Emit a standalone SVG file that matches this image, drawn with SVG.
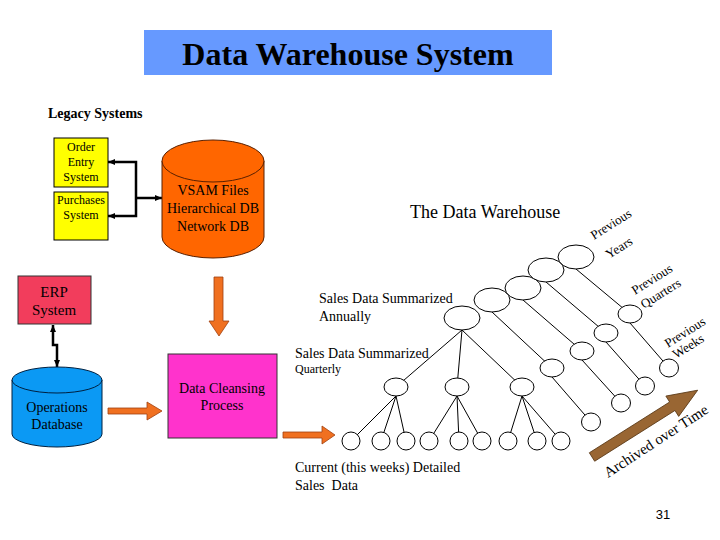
<svg xmlns="http://www.w3.org/2000/svg" width="720" height="540" viewBox="0 0 720 540">
<defs>
<style>
.ser{font-family:"Liberation Serif","Times New Roman",serif;fill:#000}
.sans{font-family:"Liberation Sans",Arial,sans-serif;fill:#000}
.tn{fill:#fff;stroke:#000;stroke-width:1}
.edge{stroke:#000;stroke-width:1;fill:none}
.blk{stroke:#000;stroke-width:2.5;fill:none}
.orange{fill:#F07020;stroke:#A04010;stroke-width:0.8}
</style>
<marker id="ah" markerUnits="userSpaceOnUse" markerWidth="8" markerHeight="8" refX="7" refY="3.5" orient="auto-start-reverse" viewBox="0 0 8 7">
<path d="M0,0.5 L7,3.5 L0,6.5 z" fill="#000"/>
</marker>
</defs>
<rect width="720" height="540" fill="#fff"/>

<g id="title">
<rect x="144" y="30" width="408" height="45" fill="#6699FF"/>
<text class="ser" x="348" y="65" font-size="32" font-weight="bold" text-anchor="middle">Data Warehouse System</text>
</g>

<text class="ser" x="48" y="118" font-size="14" font-weight="bold">Legacy Systems</text>

<g id="connectors">
<path class="blk" d="M108,162 H136 V216 H108" marker-start="url(#ah)" marker-end="url(#ah)"/>
<path class="blk" d="M136,198 H162" marker-end="url(#ah)"/>
<path class="blk" d="M53,325 V345 H57 V367" marker-start="url(#ah)" marker-end="url(#ah)"/>
<polygon class="orange" points="214,277 223,277 223,321 229,321 219,336 209,321 214,321"/>
<polygon class="orange" points="108,408 147,408 147,402 162,411 147,420 147,414 108,414"/>
<polygon class="orange" points="283,432 322,432 322,426 335,435 322,444 322,438 283,438"/>
<g transform="translate(592,457) rotate(-32.3)">
<polygon points="0,-5 95,-5 95,-12 125,0 95,12 95,5 0,5" fill="#996633" stroke="#5a3a18" stroke-width="0.8"/>
</g>
<g class="edge">
<line x1="462" y1="330" x2="396" y2="387"/>
<line x1="462" y1="330" x2="457" y2="387"/>
<line x1="462" y1="330" x2="522" y2="387"/>
<line x1="492" y1="312" x2="552" y2="368"/>
<line x1="523" y1="300" x2="582" y2="351"/>
<line x1="546" y1="282" x2="606" y2="333"/>
<line x1="576" y1="269" x2="630" y2="314"/>
<line x1="396" y1="396" x2="351" y2="441"/>
<line x1="396" y1="396" x2="381" y2="441"/>
<line x1="396" y1="396" x2="406" y2="441"/>
<line x1="457" y1="396" x2="429" y2="441"/>
<line x1="457" y1="396" x2="459" y2="441"/>
<line x1="457" y1="396" x2="482" y2="441"/>
<line x1="522" y1="396" x2="508" y2="441"/>
<line x1="522" y1="396" x2="537" y2="441"/>
<line x1="522" y1="396" x2="561" y2="441"/>
<line x1="552" y1="377" x2="591" y2="422"/>
<line x1="582" y1="360" x2="621" y2="403"/>
<line x1="606" y1="342" x2="645" y2="386"/>
<line x1="630" y1="323" x2="669" y2="368"/>
</g>
</g>

<g id="order-entry">
<rect x="54" y="138" width="54" height="49" fill="#FFFF00" stroke="#000" stroke-width="1"/>
<text class="ser" font-size="12" text-anchor="middle"><tspan x="81" y="151">Order</tspan><tspan x="81" y="166">Entry</tspan><tspan x="81" y="181">System</tspan></text>
</g>
<g id="purchases">
<rect x="54" y="192" width="54" height="48" fill="#FFFF00" stroke="#000" stroke-width="1"/>
<text class="ser" font-size="12" text-anchor="middle"><tspan x="81" y="204">Purchases</tspan><tspan x="81" y="219">System</tspan></text>
</g>

<g id="vsam">
<path d="M162,161 V237 A51,21 0 0 0 264,237 V161 Z" fill="#FF6600" stroke="#5a2000" stroke-width="1"/>
<ellipse cx="213" cy="161" rx="51" ry="21" fill="#FF6600" stroke="#5a2000" stroke-width="1"/>
<text class="ser" font-size="14" text-anchor="middle" fill="#2a1000"><tspan x="213" y="195">VSAM Files</tspan><tspan x="213" y="213">Hierarchical DB</tspan><tspan x="213" y="231">Network DB</tspan></text>
</g>

<g id="erp">
<rect x="18" y="276" width="73" height="48" fill="#F23D5C" stroke="#333" stroke-width="1"/>
<text class="ser" font-size="15" text-anchor="middle" fill="#3a0010"><tspan x="54" y="297">ERP</tspan><tspan x="54" y="315">System</tspan></text>
</g>

<g id="operations">
<path d="M12,380 V434 A45,13 0 0 0 102,434 V380 Z" fill="#0B99F4" stroke="#002040" stroke-width="1"/>
<ellipse cx="57" cy="380" rx="45" ry="13" fill="#0B99F4" stroke="#002040" stroke-width="1"/>
<text class="ser" font-size="14" text-anchor="middle" fill="#001a4d"><tspan x="57" y="412">Operations</tspan><tspan x="57" y="429">Database</tspan></text>
</g>

<g id="cleansing">
<rect x="168" y="354" width="109" height="84" fill="#FF33CC" stroke="#333" stroke-width="1"/>
<text class="ser" font-size="14" text-anchor="middle" fill="#300028"><tspan x="222" y="393">Data Cleansing</tspan><tspan x="222" y="410">Process</tspan></text>
</g>

<text class="ser" x="410" y="218" font-size="18">The Data Warehouse</text>

<g id="annual-nodes">
<ellipse class="tn" cx="462" cy="318" rx="18" ry="12"/>
<ellipse class="tn" cx="492" cy="300" rx="18" ry="12"/>
<ellipse class="tn" cx="523" cy="288" rx="18" ry="12"/>
<ellipse class="tn" cx="546" cy="270" rx="18" ry="12"/>
<ellipse class="tn" cx="576" cy="257" rx="18" ry="12"/>
</g>
<g id="quarter-nodes">
<ellipse class="tn" cx="396" cy="387" rx="12" ry="9"/>
<ellipse class="tn" cx="457" cy="387" rx="12" ry="9"/>
<ellipse class="tn" cx="522" cy="387" rx="12" ry="9"/>
<ellipse class="tn" cx="552" cy="368" rx="12" ry="9"/>
<ellipse class="tn" cx="582" cy="351" rx="12" ry="9"/>
<ellipse class="tn" cx="606" cy="333" rx="12" ry="9"/>
<ellipse class="tn" cx="630" cy="314" rx="12" ry="9"/>
</g>
<g id="week-nodes">
<ellipse class="tn" cx="351" cy="441" rx="9" ry="9"/>
<ellipse class="tn" cx="381" cy="441" rx="9" ry="9"/>
<ellipse class="tn" cx="406" cy="441" rx="9" ry="9"/>
<ellipse class="tn" cx="429" cy="441" rx="9" ry="9"/>
<ellipse class="tn" cx="459" cy="441" rx="9" ry="9"/>
<ellipse class="tn" cx="482" cy="441" rx="9" ry="9"/>
<ellipse class="tn" cx="508" cy="441" rx="9" ry="9"/>
<ellipse class="tn" cx="537" cy="441" rx="9" ry="9"/>
<ellipse class="tn" cx="561" cy="441" rx="9" ry="9"/>
<ellipse class="tn" cx="591" cy="422" rx="9.5" ry="9"/>
<ellipse class="tn" cx="621" cy="403" rx="9.5" ry="9"/>
<ellipse class="tn" cx="645" cy="386" rx="9.5" ry="9"/>
<ellipse class="tn" cx="669" cy="368" rx="9.5" ry="9"/>
</g>

<g id="labels">
<text class="ser" font-size="14"><tspan x="319" y="303">Sales Data Summarized</tspan><tspan x="319" y="321">Annually</tspan></text>
<text class="ser" font-size="14" x="295" y="358">Sales Data Summarized</text>
<text class="ser" font-size="12" x="295" y="373">Quarterly</text>
<text class="ser" font-size="14" xml:space="preserve"><tspan x="295" y="472">Current (this weeks) Detailed</tspan><tspan x="295" y="490">Sales  Data</tspan></text>
<text class="ser" font-size="13" transform="translate(594,240) rotate(-32)">Previous</text>
<text class="ser" font-size="13" transform="translate(609,259) rotate(-32)">Years</text>
<text class="ser" font-size="13" transform="translate(635,295) rotate(-32)">Previous</text>
<text class="ser" font-size="13" transform="translate(644,309) rotate(-32)">Quarters</text>
<text class="ser" font-size="13" transform="translate(668,348) rotate(-32)">Previous</text>
<text class="ser" font-size="13" transform="translate(676,359) rotate(-32)">Weeks</text>
<text class="ser" font-size="15" transform="translate(608,478) rotate(-33)">Archived over Time</text>
</g>

<text class="sans" x="663" y="519" font-size="13" text-anchor="middle">31</text>
</svg>
